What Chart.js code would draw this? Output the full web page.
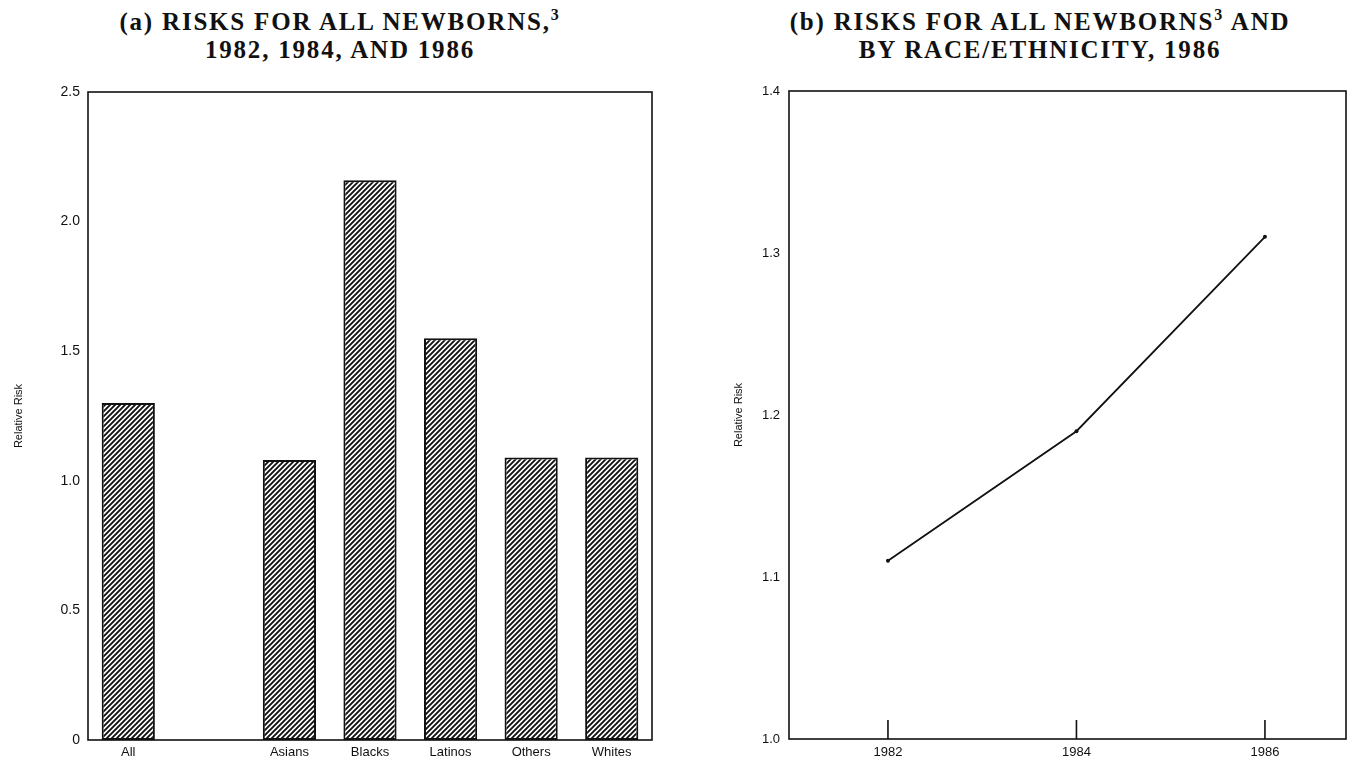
<!DOCTYPE html>
<html>
<head>
<meta charset="utf-8">
<script src="https://cdn.jsdelivr.net/npm/chart.js@4.4.1/dist/chart.umd.min.js"></script>
<style>
    html, body { margin: 0; padding: 0; background: #fff; }
    body { width: 1358px; height: 766px; position: relative; overflow: hidden; }
    .title {
        position: absolute;
        top: 8px;
        text-align: center;
        font-family: 'Liberation Serif', 'Times New Roman', serif;
        font-weight: bold;
        font-size: 25px;
        letter-spacing: 1.8px;
        line-height: 28px;
        color: #111;
    }
    .title sup { font-size: 16px; line-height: 0; vertical-align: 10px; }
    #titleA { left: 40px; width: 600px; }
    #titleB { left: 740px; width: 600px; }
    .chart-box { position: absolute; top: 0; height: 766px; }
    #boxA { left: 0; width: 680px; }
    #boxB { left: 680px; width: 678px; }
</style>
</head>
<body>
<div class="title" id="titleA">(a) RISKS FOR ALL NEWBORNS,<sup>3</sup><br>1982, 1984, AND 1986</div>
<div class="title" id="titleB">(b) RISKS FOR ALL NEWBORNS<sup>3</sup> AND<br>BY RACE/ETHNICITY, 1986</div>
<div class="chart-box" id="boxA"><canvas id="groupChart" width="680" height="766"></canvas></div>
<div class="chart-box" id="boxB"><canvas id="yearChart" width="678" height="766"></canvas></div>

<script>
// Données
const groups = ['All', '', 'Asians', 'Blacks', 'Latinos', 'Others', 'Whites'];
const groupRisk = [1.30, null, 1.08, 2.16, 1.55, 1.09, 1.09];
const groupTicks = [0, 0.5, 1.0, 1.5, 2.0, 2.5];

const years = [1982, 1984, 1986];
const yearRisk = [1.11, 1.19, 1.31];
const yearTicks = [1.0, 1.1, 1.2, 1.3, 1.4];

document.addEventListener('DOMContentLoaded', function() {
    Chart.defaults.font.family = "'Liberation Sans', Arial, sans-serif";
    Chart.defaults.color = '#111';
    Chart.defaults.animation = false;
    initializeGroupChart();
    initializeYearChart();
});

// Cadre noir autour de la zone du graphique
const frame = {
    id: 'frame',
    afterDraw(chart) {
        const { ctx, chartArea: a } = chart;
        ctx.save();
        ctx.strokeStyle = '#111';
        ctx.lineWidth = 1.6;
        ctx.strokeRect(a.left, a.top, a.right - a.left, a.bottom - a.top);
        ctx.restore();
    }
};

// Motif hachuré des barres
function hatchPattern() {
    const c = document.createElement('canvas');
    c.width = 5;
    c.height = 5;
    const p = c.getContext('2d');
    p.fillStyle = '#fff';
    p.fillRect(0, 0, 5, 5);
    p.strokeStyle = '#111';
    p.lineWidth = 1.9;
    p.beginPath();
    p.moveTo(-1, 6); p.lineTo(6, -1);
    p.moveTo(-1, 1); p.lineTo(1, -1);
    p.moveTo(4, 6); p.lineTo(6, 4);
    p.stroke();
    return p.createPattern(c, 'repeat');
}

function fixTicks(values) {
    return scale => { scale.ticks = values.map(v => ({ value: v })); };
}

function riskLabel(v) {
    return v === 0 ? '0' : v.toFixed(1);
}

function yTitle(offset) {
    return {
        display: true,
        text: 'Relative Risk',
        font: { size: 11 },
        padding: { top: offset, bottom: 0 }
    };
}

// Graphique (a) : barres par groupe
function initializeGroupChart() {
    const ctx = document.getElementById('groupChart').getContext('2d');
    new Chart(ctx, {
        type: 'bar',
        data: {
            labels: groups,
            datasets: [{
                data: groupRisk,
                backgroundColor: hatchPattern(),
                borderColor: '#111',
                borderWidth: 2,
                borderSkipped: false,
                barPercentage: 0.66,
                categoryPercentage: 1
            }]
        },
        options: {
            responsive: false,
            layout: { padding: { top: 92, right: 28, left: 0, bottom: 0 } },
            plugins: { legend: { display: false }, tooltip: { enabled: false } },
            scales: {
                x: {
                    grid: { display: false, drawTicks: false },
                    border: { display: false },
                    ticks: {
                        padding: 5,
                        font: { family: "'Liberation Sans Narrow', 'Liberation Sans', sans-serif", size: 13 }
                    },
                    afterFit: scale => { scale.height = 26; }
                },
                y: {
                    min: 0,
                    max: 2.5,
                    afterBuildTicks: fixTicks(groupTicks),
                    grid: { display: false, drawTicks: false },
                    border: { display: false },
                    ticks: { padding: 8, font: { size: 14 }, callback: riskLabel },
                    title: yTitle(12),
                    afterFit: scale => { scale.width = 88; }
                }
            }
        },
        plugins: [frame]
    });
}

// Petites graduations verticales sur l'axe des années
const yearMarks = {
    id: 'yearMarks',
    afterDraw(chart) {
        const { ctx, chartArea: a, scales } = chart;
        ctx.save();
        ctx.strokeStyle = '#111';
        ctx.lineWidth = 1.6;
        ctx.beginPath();
        years.forEach(y => {
            const x = scales.x.getPixelForValue(y);
            ctx.moveTo(x, a.bottom);
            ctx.lineTo(x, a.bottom - 19);
        });
        ctx.stroke();
        ctx.restore();
    }
};

// Graphique (b) : évolution 1982-1986
function initializeYearChart() {
    const ctx = document.getElementById('yearChart').getContext('2d');
    new Chart(ctx, {
        type: 'line',
        data: {
            datasets: [{
                data: years.map((y, i) => ({ x: y, y: yearRisk[i] })),
                borderColor: '#111',
                borderWidth: 1.8,
                pointRadius: 2,
                pointBackgroundColor: '#111',
                pointBorderWidth: 0,
                tension: 0
            }]
        },
        options: {
            responsive: false,
            layout: { padding: { top: 91, right: 12, left: 0, bottom: 0 } },
            plugins: { legend: { display: false }, tooltip: { enabled: false } },
            scales: {
                x: {
                    type: 'linear',
                    min: 1980.95,
                    max: 1986.86,
                    afterBuildTicks: fixTicks(years),
                    grid: { display: false, drawTicks: false },
                    border: { display: false },
                    ticks: { padding: 6, font: { size: 13 }, callback: v => String(v) },
                    afterFit: scale => { scale.height = 27; }
                },
                y: {
                    min: 1.0,
                    max: 1.4,
                    afterBuildTicks: fixTicks(yearTicks),
                    grid: { display: false, drawTicks: false },
                    border: { display: false },
                    ticks: { padding: 9, font: { size: 13 }, callback: riskLabel },
                    title: yTitle(52),
                    afterFit: scale => { scale.width = 109; }
                }
            }
        },
        plugins: [frame, yearMarks]
    });
}
</script>
</body>
</html>
